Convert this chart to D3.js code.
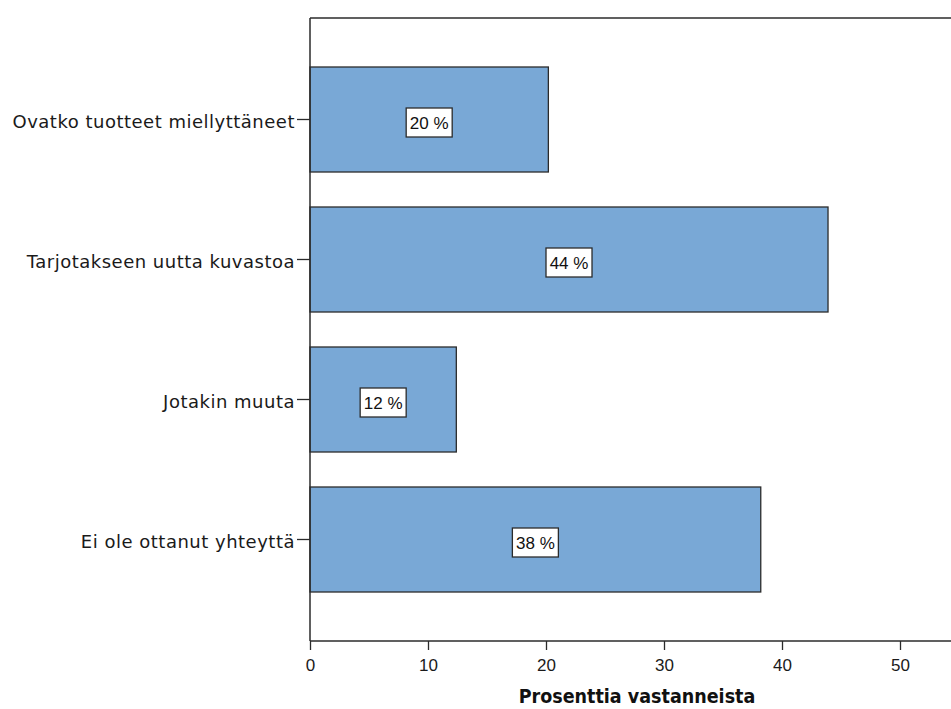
<!DOCTYPE html>
<html>
<head>
<meta charset="utf-8">
<script src="https://cdn.jsdelivr.net/npm/d3@7"></script>
<style>
  html, body { margin: 0; padding: 0; background: #fff; }
  svg { display: block; }
</style>
</head>
<body>
<svg id="chart" width="951" height="709"></svg>
<script>
// Reasons for contacting, share of respondents (%)
const categories = [
  "Ovatko tuotteet miellyttäneet",
  "Tarjotakseen uutta kuvastoa",
  "Jotakin muuta",
  "Ei ole ottanut yhteyttä"
];
const values = [20.2, 43.9, 12.4, 38.2];
const valueLabels = ["20 %", "44 %", "12 %", "38 %"];
const xTicks = [0, 10, 20, 30, 40, 50];
const axisTitle = "Prosenttia vastanneista";

const W = 951, H = 709;
const plotLeft = 310, plotTop = 18, plotBottom = 641;

const svg = d3.select("#chart");

const x = d3.scaleLinear().domain([0, 50]).range([plotLeft, 900]);
const y = d3.scaleBand()
  .domain(categories)
  .range([plotTop, plotBottom])
  .paddingInner(0.25)
  .paddingOuter(0.35);

const ink = "#2b2b2b";

// bars
svg.append("g").selectAll("rect")
  .data(values)
  .join("rect")
  .attr("x", x(0))
  .attr("y", (d, i) => y(categories[i]))
  .attr("width", d => x(d) - x(0))
  .attr("height", y.bandwidth())
  .attr("fill", "#79a8d6")
  .attr("stroke", ink)
  .attr("stroke-width", 1.3);

// value label boxes
const lab = svg.append("g").selectAll("g")
  .data(values)
  .join("g")
  .attr("transform", (d, i) =>
    `translate(${(x(0) + x(d)) / 2},${y(categories[i]) + y.bandwidth() / 2 + 3})`);
lab.append("rect")
  .attr("x", -23).attr("y", -14.5)
  .attr("width", 46).attr("height", 29)
  .attr("fill", "#fff")
  .attr("stroke", ink)
  .attr("stroke-width", 1.3);
lab.append("text")
  .attr("text-anchor", "middle")
  .attr("dy", "0.36em")
  .attr("font-family", "Liberation Sans, Arial, sans-serif")
  .attr("font-size", 17)
  .attr("fill", "#111")
  .text((d, i) => valueLabels[i]);

// frame top line
svg.append("line")
  .attr("x1", plotLeft).attr("x2", W)
  .attr("y1", plotTop).attr("y2", plotTop)
  .attr("stroke", ink).attr("stroke-width", 1.5);

// y axis
const yAxis = svg.append("g")
  .attr("transform", `translate(${plotLeft},0)`)
  .call(d3.axisLeft(y).tickSize(13).tickPadding(2));
yAxis.select(".domain")
  .attr("d", `M0,${plotTop}V${plotBottom}`)
  .attr("stroke", ink).attr("stroke-width", 1.5);
yAxis.selectAll(".tick line").attr("stroke", ink).attr("stroke-width", 1.3);
yAxis.selectAll(".tick text")
  .attr("font-family", "DejaVu Sans, sans-serif")
  .attr("font-size", 18)
  .attr("letter-spacing", "0.5px")
  .attr("dy", "0.45em")
  .attr("fill", "#1a1a1a");

// x axis
const xAxis = svg.append("g")
  .attr("transform", `translate(0,${plotBottom})`)
  .call(d3.axisBottom(x).tickValues(xTicks).tickSize(9).tickPadding(9).tickFormat(d3.format("d")));
xAxis.select(".domain")
  .attr("d", `M${plotLeft},0H${W}`)
  .attr("stroke", ink).attr("stroke-width", 1.5);
xAxis.selectAll(".tick line").attr("stroke", ink).attr("stroke-width", 1.3);
xAxis.selectAll(".tick text")
  .attr("font-family", "Liberation Sans, Arial, sans-serif")
  .attr("font-size", 17)
  .attr("fill", "#1a1a1a");

svg.append("text")
  .attr("x", 637).attr("y", 703)
  .attr("text-anchor", "middle")
  .attr("font-family", "DejaVu Sans Condensed, DejaVu Sans, sans-serif")
  .attr("font-weight", "bold")
  .attr("font-size", 19.5)
  .attr("fill", "#111")
  .text(axisTitle);
</script>
</body>
</html>
